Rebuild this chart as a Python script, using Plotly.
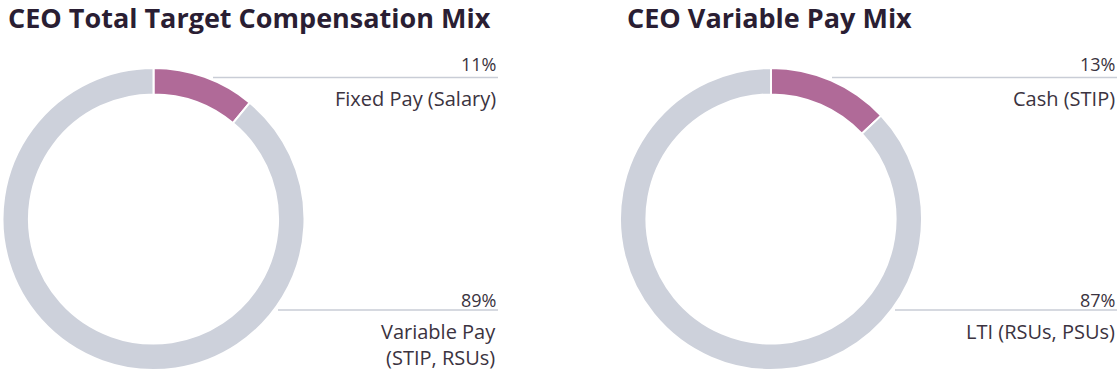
import plotly.graph_objects as go

W, H = 1118, 374

titles = ["CEO Total Target Compensation Mix", "CEO Variable Pay Mix"]
labels_left = ["Fixed Pay (Salary)", "Variable Pay<br>(STIP, RSUs)"]
values_left = [11, 89]
labels_right = ["Cash (STIP)", "LTI (RSUs, PSUs)"]
values_right = [13, 87]

colors = ["#b06a98", "#cdd1db"]
dark = "#2a1e33"
text_col = "#3b3340"
line_col = "#c9cdd6"
FONT = "Open Sans"

def px(x):
    return x / W

def py(y):
    return 1 - y / H

fig = go.Figure()

charts = [
    dict(labels=labels_left, values=values_left, cx=153.5, title_x=6,
         right=498, top_start=213, bot_start=278),
    dict(labels=labels_right, values=values_right, cx=771, title_x=625,
         right=1117, top_start=832, bot_start=895),
]
cy, R = 219, 151

for i, c in enumerate(charts):
    fig.add_trace(go.Pie(
        labels=[l.replace("<br>", " ") for l in c["labels"]],
        values=c["values"],
        hole=0.825,
        sort=False,
        direction="clockwise",
        rotation=0,
        textinfo="none",
        hoverinfo="label+percent",
        marker=dict(colors=colors, line=dict(color="white", width=2)),
        domain=dict(x=[px(c["cx"] - R), px(c["cx"] + R)],
                    y=[py(cy + R), py(cy - R)]),
        showlegend=False,
    ))
    total = sum(c["values"])
    pcts = [f"{round(v * 100 / total)}%" for v in c["values"]]
    # title
    fig.add_annotation(text=f"<b>{titles[i]}</b>", x=px(c["title_x"]), y=py(18),
                       xref="paper", yref="paper", xanchor="left", yanchor="middle",
                       showarrow=False, font=dict(family=FONT, size=27, color=dark))
    # leader lines
    for (ly, x0) in [(77.5, c["top_start"]), (310, c["bot_start"])]:
        fig.add_shape(type="line", xref="paper", yref="paper",
                      x0=px(x0), x1=px(c["right"]), y0=py(ly), y1=py(ly),
                      line=dict(color=line_col, width=1.5))
    # percent labels
    for (ty, t) in [(64, pcts[0]), (300, pcts[1])]:
        fig.add_annotation(text=t, x=px(c["right"]), y=py(ty), xref="paper", yref="paper",
                           xanchor="right", yanchor="middle", showarrow=False,
                           font=dict(family=FONT, size=18, color=text_col))
    # names
    fig.add_annotation(text=c["labels"][0], x=px(c["right"]), y=py(99), xref="paper", yref="paper",
                       xanchor="right", yanchor="middle", showarrow=False, align="right",
                       font=dict(family=FONT, size=20, color=text_col))
    fig.add_annotation(text=c["labels"][1], x=px(c["right"]), y=py(316), xref="paper", yref="paper",
                       xanchor="right", yanchor="top", showarrow=False, align="right",
                       font=dict(family=FONT, size=20, color=text_col))

fig.update_layout(
    width=W, height=H,
    margin=dict(l=0, r=0, t=0, b=0),
    paper_bgcolor="white", plot_bgcolor="white",
    font=dict(family=FONT),
)

fig.write_html("out.html", config={"displayModeBar": False},
               post_script="document.body.style.margin='0';document.body.style.padding='0';")
